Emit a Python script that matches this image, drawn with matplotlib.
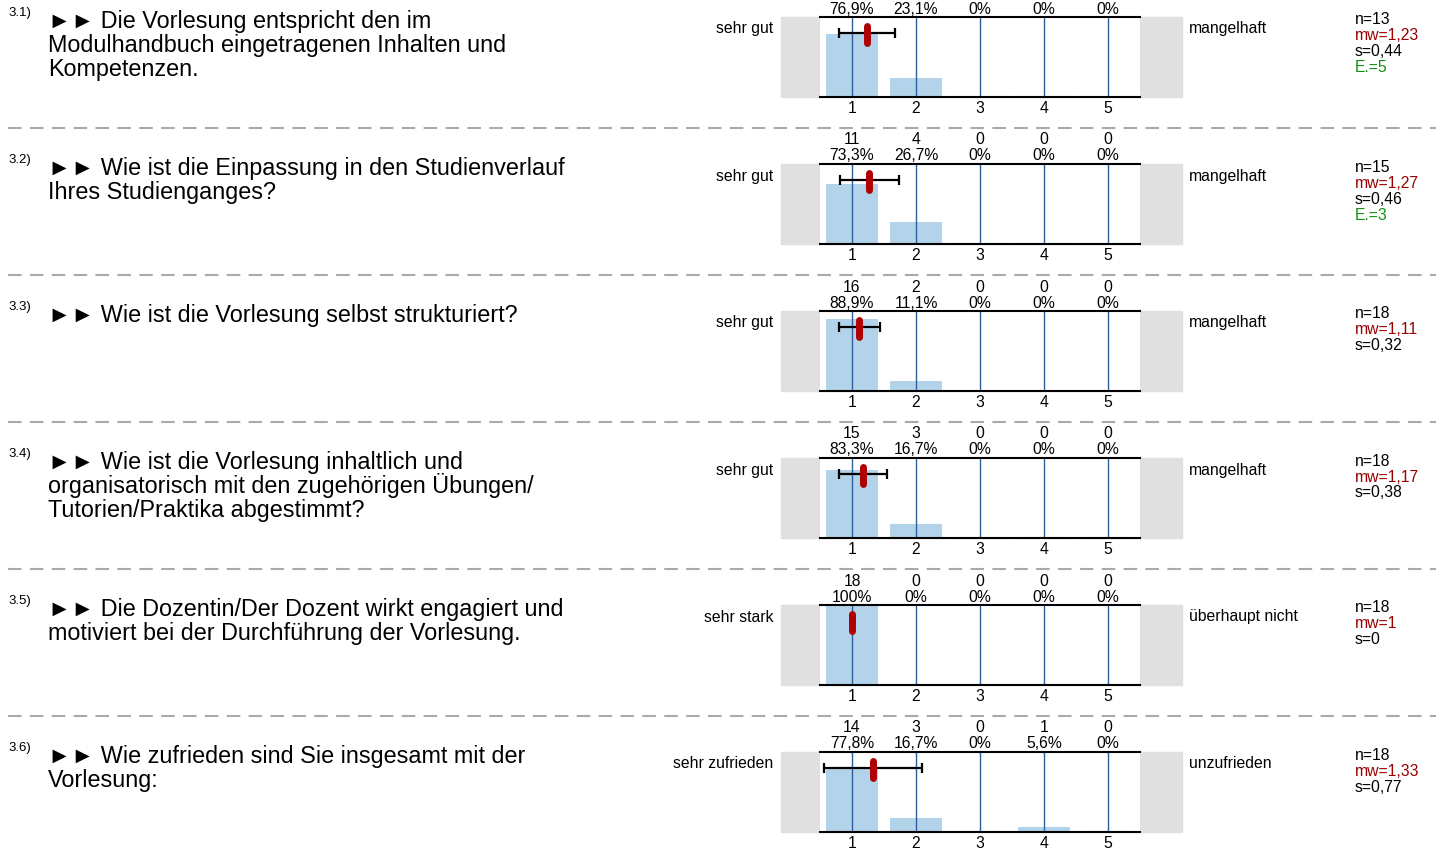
import matplotlib
matplotlib.use('Agg')
import matplotlib.pyplot as plt
from matplotlib.patches import Rectangle
from matplotlib.lines import Line2D

plt.rcParams['font.family'] = ['Liberation Sans', 'DejaVu Sans']

W, H = 1436, 850

# survey data
numbers = ['3.1)', '3.2)', '3.3)', '3.4)', '3.5)', '3.6)']
questions = [
    '►► Die Vorlesung entspricht den im\nModulhandbuch eingetragenen Inhalten und\nKompetenzen.',
    '►► Wie ist die Einpassung in den Studienverlauf\nIhres Studienganges?',
    '►► Wie ist die Vorlesung selbst strukturiert?',
    '►► Wie ist die Vorlesung inhaltlich und\norganisatorisch mit den zugehörigen Übungen/\nTutorien/Praktika abgestimmt?',
    '►► Die Dozentin/Der Dozent wirkt engagiert und\nmotiviert bei der Durchführung der Vorlesung.',
    '►► Wie zufrieden sind Sie insgesamt mit der\nVorlesung:',
]
left_labels = ['sehr gut', 'sehr gut', 'sehr gut', 'sehr gut', 'sehr stark', 'sehr zufrieden']
right_labels = ['mangelhaft', 'mangelhaft', 'mangelhaft', 'mangelhaft', 'überhaupt nicht', 'unzufrieden']
counts = [
    [10, 3, 0, 0, 0],
    [11, 4, 0, 0, 0],
    [16, 2, 0, 0, 0],
    [15, 3, 0, 0, 0],
    [18, 0, 0, 0, 0],
    [14, 3, 0, 1, 0],
]
n_vals = [13, 15, 18, 18, 18, 18]
mw_vals = [1.23, 1.27, 1.11, 1.17, 1, 1.33]
s_vals = [0.44, 0.46, 0.32, 0.38, 0, 0.77]
e_vals = [5, 3, None, None, None, None]
scale = [1, 2, 3, 4, 5]

BAR = '#b3d3ea'
GRID = '#2f5f9a'
RED = '#b00000'
GRAY = '#e0e0e0'
FS = 11.3


def fx(x):
    return x / W


def fy(y):
    return 1 - y / H


def num(v):
    s = ('%.2f' % v).rstrip('0').rstrip('.')
    return s.replace('.', ',')


def pct(c, n):
    p = 100.0 * c / n
    if abs(p - round(p)) < 1e-9:
        return '%d%%' % round(p)
    return ('%.1f%%' % p).replace('.', ',')


fig = plt.figure(figsize=(W / 100, H / 100), dpi=100)

step = 147
for i in range(6):
    top = 17 + step * i
    base = top - 17
    n = n_vals[i]

    # gray background band behind the axes
    fig.patches.append(Rectangle((fx(781), fy(top + 80)), fx(1182 - 781), 80 / H,
                                 transform=fig.transFigure, color=GRAY, zorder=-1))

    ax = fig.add_axes([fx(820), fy(top + 80), fx(320), 80 / H])
    ax.set_facecolor('white')
    heights = [c / n for c in counts[i]]
    ax.bar(scale, heights, width=0.78, color=BAR, edgecolor=BAR, linewidth=1.5,
           joinstyle='round', zorder=1)
    ax.vlines(scale, 0, 1, color=GRID, lw=1, zorder=2)
    if s_vals[i] > 0:
        ax.errorbar(mw_vals[i], 0.8, xerr=s_vals[i], color='black', lw=1.6,
                    capsize=3.8, capthick=1.6, zorder=3)
    ax.plot([mw_vals[i], mw_vals[i]], [0.68, 0.89], color=RED, lw=5,
            solid_capstyle='round', zorder=4)
    ax.set_xlim(0.5, 5.5)
    ax.set_ylim(0, 1)
    ax.set_yticks([])
    ax.set_xticks(scale)
    ax.tick_params(axis='x', length=0, labelsize=FS, pad=3)
    for sp in ['left', 'right']:
        ax.spines[sp].set_visible(False)
    for sp in ['top', 'bottom']:
        ax.spines[sp].set_linewidth(1.5)

    # counts and percentages above the bars
    for k, c in enumerate(counts[i]):
        xp = ax.transData.transform((scale[k], 0))[0] / fig.dpi / fig.get_figwidth()
        if top - 24 > 5:
            fig.text(xp, fy(top - 24), str(c), ha='center', va='center', fontsize=FS)
        fig.text(xp, fy(top - 8), pct(c, n), ha='center', va='center', fontsize=FS)

    fig.text(fx(773), fy(top + 12), left_labels[i], ha='right', va='center', fontsize=FS)
    fig.text(fx(1189), fy(top + 12), right_labels[i], ha='left', va='center', fontsize=FS)

    # statistics
    stats = [('n=%d' % n, 'black'), ('mw=' + num(mw_vals[i]), '#990000'),
             ('s=' + num(s_vals[i]), 'black')]
    if e_vals[i] is not None:
        stats.append(('E.=%d' % e_vals[i], '#109010'))
    for k, (t, col) in enumerate(stats):
        fig.text(fx(1355), fy(top + 3 + 16 * k), t, ha='left', va='center',
                 fontsize=FS, color=col)

    fig.text(fx(8), fy(base + 13), numbers[i], ha='left', va='center', fontsize=9.5)
    for j, line in enumerate(questions[i].split('\n')):
        fig.text(fx(48), fy(base + 28 + 24 * j), line, ha='left', va='baseline',
                 fontsize=16.8)

    if i < 5:
        fig.lines.append(Line2D([fx(8), fx(1436)], [fy(top + 111)] * 2,
                                transform=fig.transFigure, color='#aaaaaa', lw=1.5,
                                linestyle=(0, (6.5, 4))))

fig.savefig('out.png', dpi=100)
